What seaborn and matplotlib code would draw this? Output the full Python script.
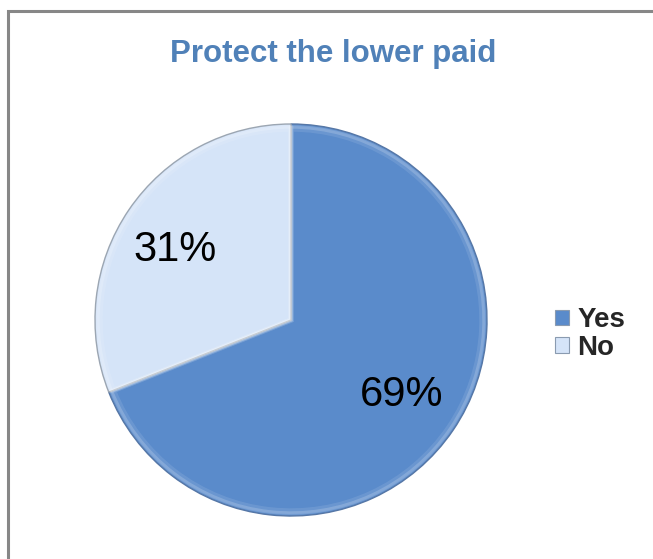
import matplotlib
matplotlib.use("Agg")
import matplotlib.pyplot as plt
from matplotlib.patches import Rectangle, Patch
import seaborn as sns

# Survey result: should the lower paid be protected?
categories = ["Yes", "No"]
shares = [69, 31]
title = "Protect the lower paid"

colors = ["#5A8BCB", "#D5E4F8"]
edge_colors = ["#5677A6", "#9CA6B2"]

sns.set_theme(style="white")
plt.rcParams["font.family"] = ["Liberation Sans", "DejaVu Sans"]

W, H = 653, 559
fig = plt.figure(figsize=(W / 100, H / 100), dpi=100)
fig.patch.set_facecolor("white")

# Chart-area frame
fig.patches.append(Rectangle((8 / W, -0.05), 1.1, (H - 11) / H + 0.05,
                             transform=fig.transFigure, fill=False,
                             edgecolor="#878787", linewidth=2.2))

cx, cy, r = 291, 320, 196
ax = fig.add_axes([(cx - r) / W, (H - cy - r) / H, 2 * r / W, 2 * r / H])
wedges, texts, autotexts = ax.pie(
    shares, colors=colors, startangle=90, counterclock=False,
    autopct=lambda p: f"{p:.0f}%", pctdistance=0.68,
    wedgeprops=dict(edgecolor="#7f8a98", linewidth=1.0),
    textprops=dict(fontsize=30, color="black"))

# Soft bevel: a faint light band just inside each wedge edge
for rad, lw, a in [(0.985, 2.5, 0.18), (0.975, 4.0, 0.10)]:
    ax.pie(shares, radius=rad, startangle=90, counterclock=False,
           wedgeprops=dict(fill=False, edgecolor="white",
                           linewidth=lw, alpha=a))
for w, ec in zip(wedges, edge_colors):
    w.set_edgecolor(ec)

# nudge the smaller label a little toward the slice centre
x, y = autotexts[1].get_position()
autotexts[1].set_position((x - 0.03, y - 0.025))

ax.set_xlim(-1, 1)
ax.set_ylim(-1, 1)
ax.set_aspect("equal")
ax.axis("off")

fig.text(333 / W, 1 - 62 / H, title, ha="center", va="baseline",
         fontsize=22.5, fontweight="bold", color="#5081B8")

handles = [Patch(facecolor=c, edgecolor="#8a9bb0", linewidth=0.8) for c in colors]
leg = fig.legend(handles, categories, loc="center left",
                 bbox_to_anchor=(541 / W, 1 - 334 / H),
                 frameon=False, handlelength=0.5, handleheight=0.5,
                 handletextpad=0.3, labelspacing=0.05,
                 prop=dict(size=20, weight="bold"), borderpad=0)

fig.savefig("out.png", dpi=100, facecolor="white")
